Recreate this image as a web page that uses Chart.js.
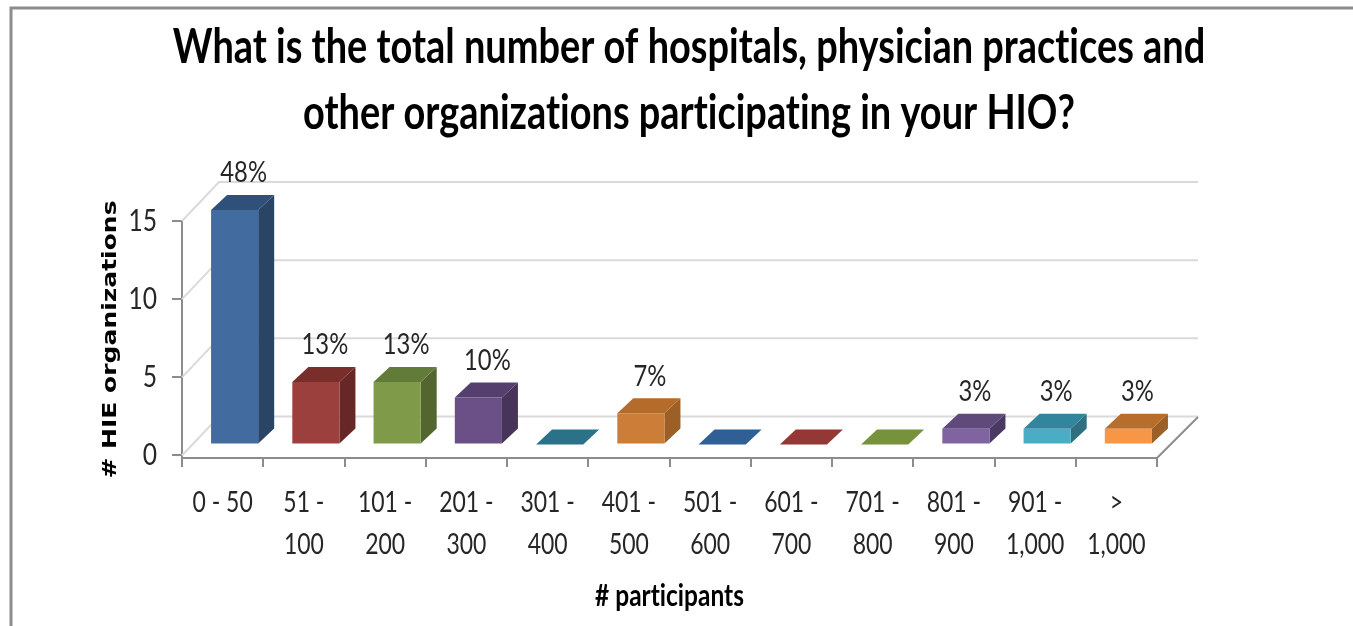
<!DOCTYPE html>
<html><head><meta charset="utf-8">
<script src="https://cdn.jsdelivr.net/npm/chart.js@4"></script>
<style>html,body{margin:0;padding:0;background:#fff;overflow:hidden}canvas{display:block}</style>
</head><body>
<div style="width:1353px;height:626px"><canvas id="c"></canvas></div>
<script>
const categories=[["0 - 50"],["51 -","100"],["101 -","200"],["201 -","300"],["301 -","400"],["401 -","500"],["501 -","600"],["601 -","700"],["701 -","800"],["801 -","900"],["901 -","1,000"],[">","1,000"]];
const counts=[15,4,4,3,0,2,0,0,0,1,1,1];
const percentLabels=["48%","13%","13%","10%","","7%","","","","3%","3%","3%"];
const yTicks=[0,5,10,15];
const titleLines=["What is the total number of hospitals, physician practices and","other organizations participating in your HIO?"];
const yTitle="# HIE organizations";
const xTitle="# participants";
const frontColors=["#426C9F","#9C403D","#7F9A48","#6A5087","#31859C","#CC7D37","#376092","#953735","#76923C","#8064A2","#4BACC6","#F79646"];
const topColors=["#2F5079","#7A2E2C","#637B38","#543F6E","#2B7289","#B56B2A","#2F5F94","#953735","#76923C","#604A7B","#31859C","#B96D2B"];
const sideColors=["#2A4466","#672726","#536630","#463558","#255F70","#9C5F26","#254061","#632523","#4F6228","#4A3A63","#2F6F80","#9C5F26"];

const FONT='Lato';
const GRID='#DADADA', AXIS='#8C8C8C';
const BAR_DX=12, BAR_DY=-11, DEPTH_X=16, DEPTH_Y=15;
const TEXT_SCALE=0.82, BOLD_SCALE=0.79, WIDE_SCALE=1.25;

const canvas=document.getElementById('c');
const ctx0=canvas.getContext('2d');
const rawFill=ctx0.fillText;
ctx0.fillText=function(t,x,y){
  const f=this.font;
  const sx=f.includes('DejaVu')?WIDE_SCALE:(f.includes('bold')||f.includes('700')?BOLD_SCALE:TEXT_SCALE);
  this.save();this.translate(x,y);this.scale(sx,1);
  this.textRendering='optimizeSpeed';
  rawFill.call(this,t,0,0);
  this.restore();
};

const scene={
  id:'scene',
  afterLayout(chart){
    if(chart.titleBlock){chart.titleBlock.left=0;chart.titleBlock.right=1378;}
  },
  beforeDraw(chart){
    const c=chart.ctx;
    c.save();c.fillStyle='#fff';c.fillRect(0,0,chart.width,chart.height);
    c.strokeStyle=AXIS;c.lineWidth=3;
    c.beginPath();c.moveTo(11,626);c.lineTo(11,8);c.lineTo(1353,8);c.stroke();
    c.restore();
  },
  beforeDatasetsDraw(chart){
    const c=chart.ctx,y=chart.scales.y,a=chart.chartArea;
    c.save();
    c.lineWidth=2;c.strokeStyle=GRID;
    yTicks.forEach(v=>{
      const p=y.getPixelForValue(v);
      c.beginPath();c.moveTo(a.left,p);c.lineTo(a.left+37,p-39);c.lineTo(a.right+41,p-39);c.stroke();
    });
    c.strokeStyle=AXIS;
    c.beginPath();c.moveTo(a.right,a.bottom);c.lineTo(a.right+41,a.bottom-41);c.stroke();
    c.restore();
  },
  beforeDatasetDraw(chart,args){
    const c=chart.ctx;
    c.save();c.translate(BAR_DX,BAR_DY);
    args.meta.data.forEach((b,i)=>{
      const p=b.getProps(['x','y','base','width'],true);
      const l=p.x-p.width/2,r=p.x+p.width/2,t=p.y,bt=p.base;
      c.fillStyle=sideColors[i];
      if(counts[i]>0){c.beginPath();c.moveTo(r,t);c.lineTo(r+DEPTH_X,t-DEPTH_Y);c.lineTo(r+DEPTH_X,bt-DEPTH_Y);c.lineTo(r,bt);c.closePath();c.fill();}
      c.fillStyle=topColors[i];
      c.beginPath();c.moveTo(l,t);c.lineTo(l+DEPTH_X,t-DEPTH_Y);c.lineTo(r+DEPTH_X,t-DEPTH_Y);c.lineTo(r,t);c.closePath();c.fill();
    });
  },
  afterDatasetDraw(chart,args){
    const c=chart.ctx;
    c.restore();
    c.save();
    c.font='29px '+FONT;c.fillStyle='#262626';c.textAlign='center';c.textBaseline='middle';
    args.meta.data.forEach((b,i)=>{
      if(percentLabels[i]) c.fillText(percentLabels[i],b.x+BAR_DX+9,b.y+BAR_DY-37);
    });
    c.restore();
  }
};

new Chart(canvas,{
  type:'bar',
  data:{labels:categories,datasets:[{data:counts,backgroundColor:frontColors,borderWidth:0,categoryPercentage:1,barPercentage:0.58,clip:false}]},
  plugins:[scene],
  options:{
    responsive:true,maintainAspectRatio:false,animation:false,
    layout:{autoPadding:false,padding:{top:0,left:0,right:196,bottom:0}},
    plugins:{
      legend:{display:false},tooltip:{enabled:false},
      title:{display:true,text:titleLines,color:'#000',align:'center',
        font:{family:FONT,size:48,weight:'bold',lineHeight:'66px'},
        padding:{top:15,bottom:74}}
    },
    scales:{
      x:{
        grid:{display:true,drawOnChartArea:false,drawTicks:true,tickLength:9,color:AXIS,lineWidth:2},
        border:{color:AXIS,width:2},
        ticks:{color:'#262626',maxRotation:0,minRotation:0,autoSkip:false,padding:15,font:{family:FONT,size:28,lineHeight:'42px'}},
        title:{display:true,text:xTitle,color:'#000',font:{family:FONT,size:31,weight:'bold'},padding:{top:0,bottom:11}},
        afterFit(s){s.height=168;}
      },
      y:{
        min:-0.16,max:15,
        afterBuildTicks(s){s.ticks=yTicks.map(v=>({value:v}));},
        grid:{display:true,drawOnChartArea:false,drawTicks:true,tickLength:10,color:AXIS,lineWidth:2},
        border:{color:AXIS,width:2},
        ticks:{color:'#262626',padding:15,font:{family:FONT,size:30}},
        title:{display:true,text:yTitle,color:'#000',font:{family:'"DejaVu Sans"',size:20,weight:'bold'},padding:{top:99,bottom:0}},
        afterFit(s){s.width=182;}
      }
    }
  }
});
</script>
</body></html>
